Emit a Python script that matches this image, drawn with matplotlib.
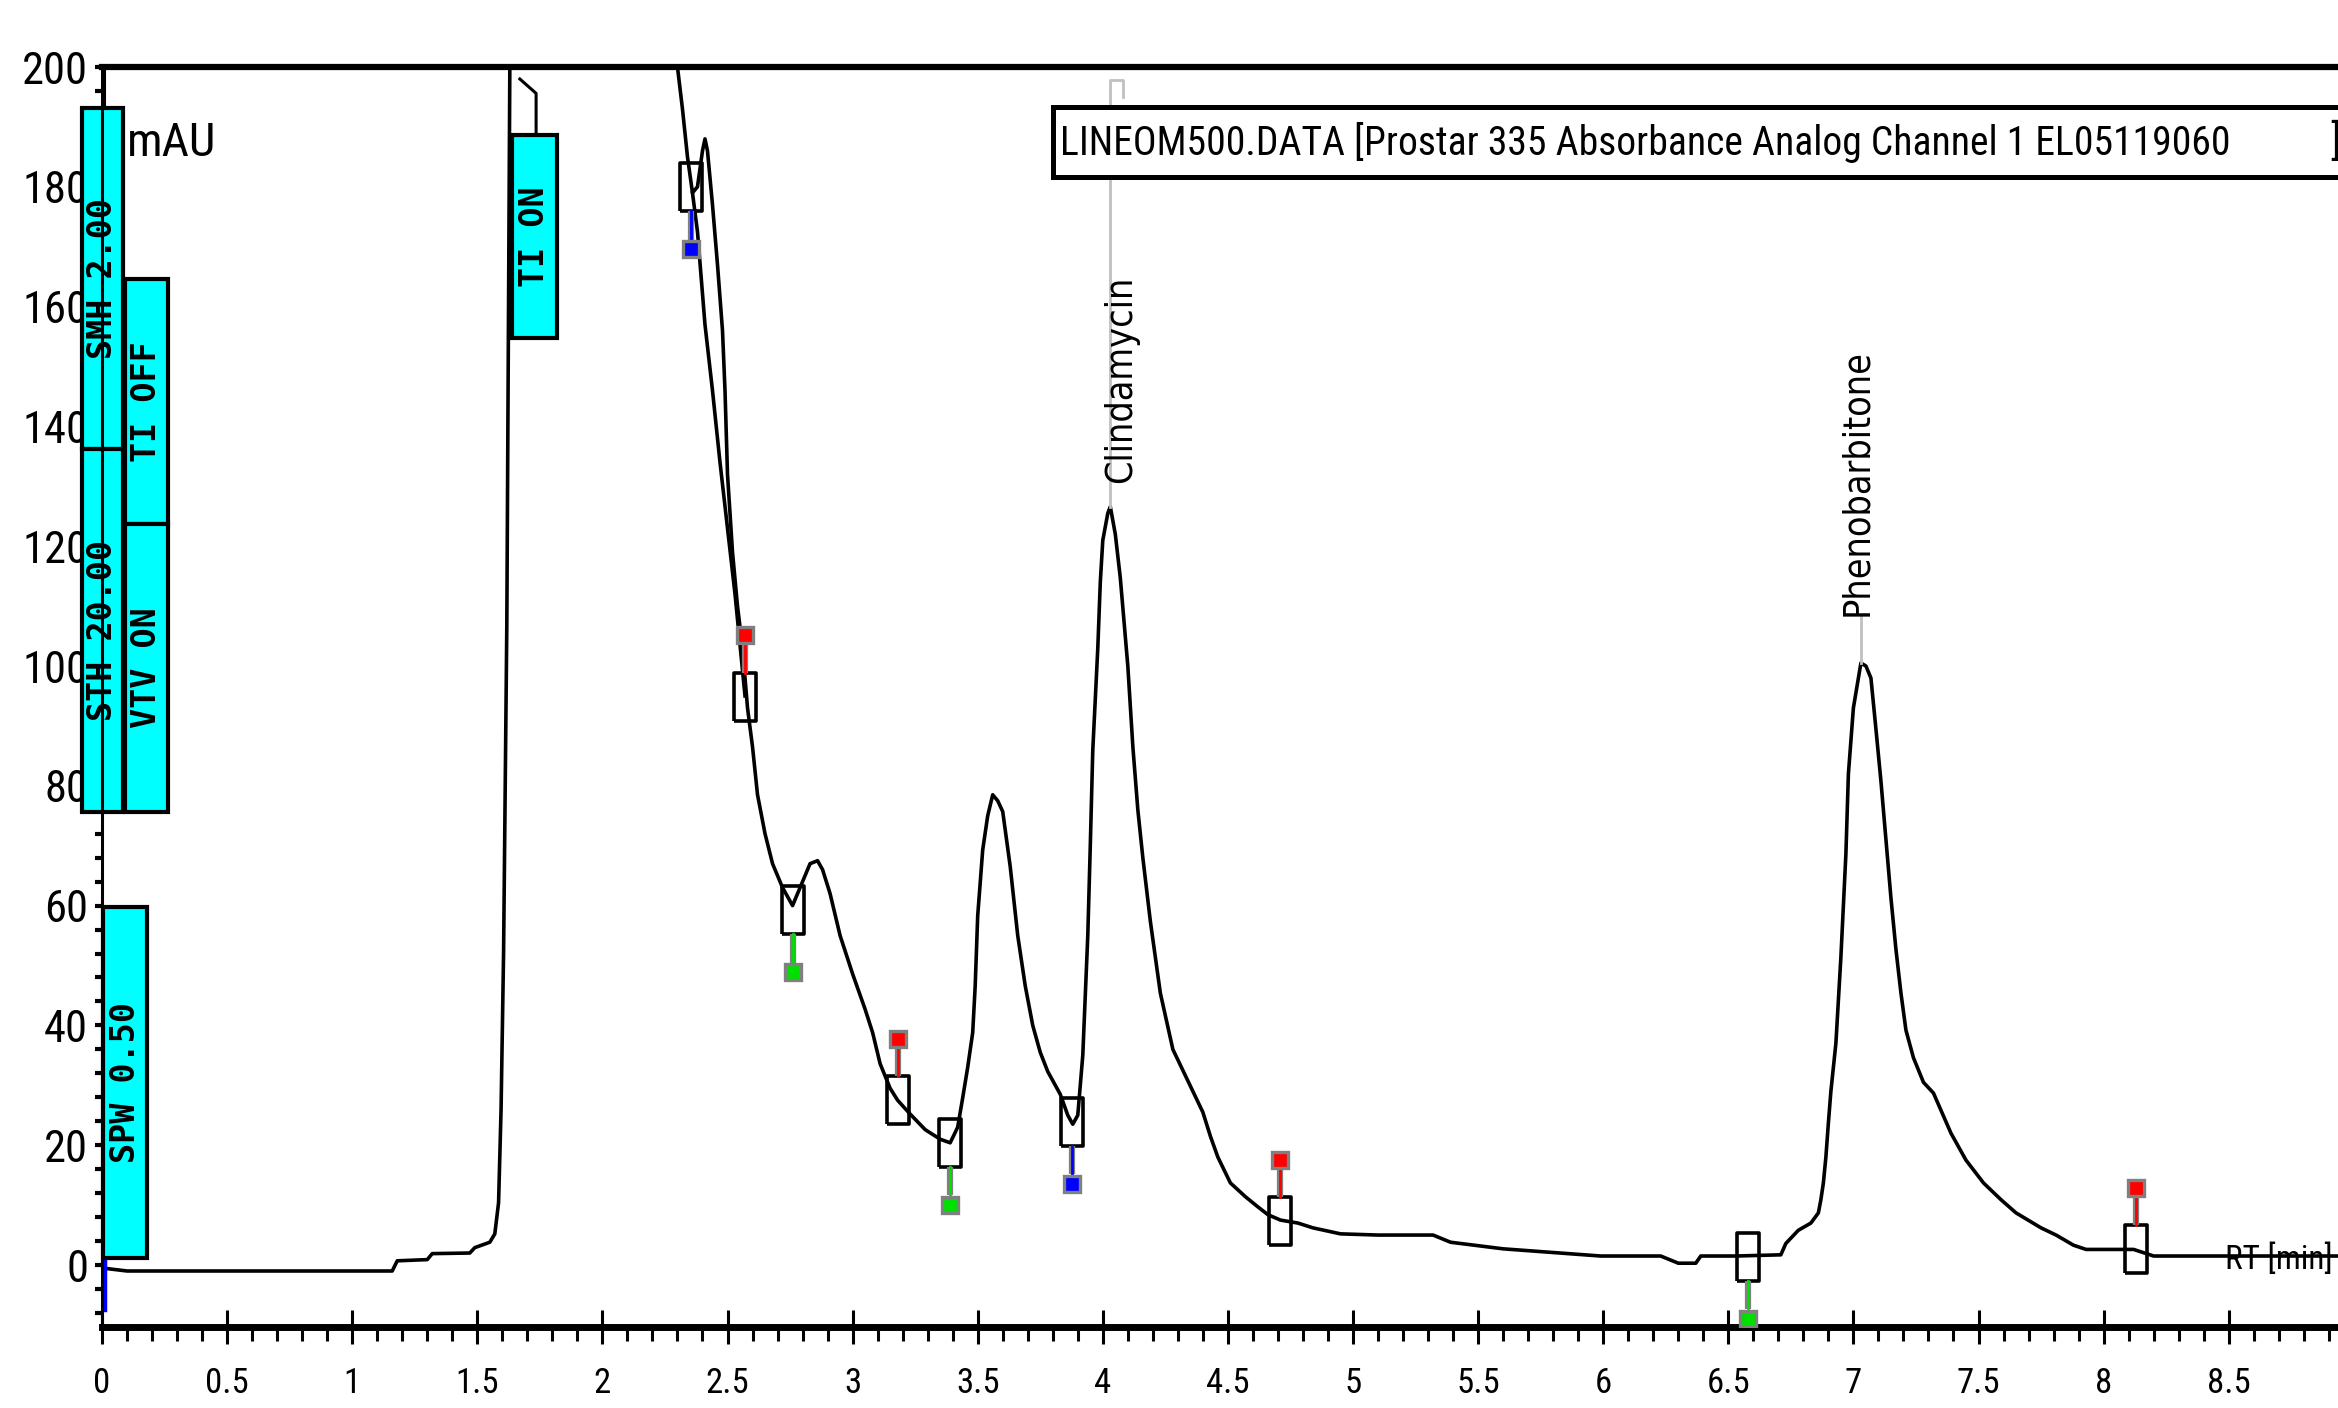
import matplotlib
matplotlib.use('Agg')
import numpy as np
import matplotlib.pyplot as plt
from matplotlib import font_manager
from matplotlib.patches import Rectangle
from matplotlib.ticker import MultipleLocator, FuncFormatter

# chromatogram trace (retention time in min, absorbance in mAU)
rt_min = [0.00, 0.10, 0.57, 1.00, 1.16, 1.18, 1.30, 1.32, 1.47, 1.49,
          1.55, 1.57, 1.585, 1.595, 1.605, 1.618, 1.63, 2.30, 2.32, 2.34,
          2.36, 2.38, 2.40, 2.41, 2.42, 2.44, 2.46, 2.48, 2.49, 2.50,
          2.52, 2.54, 2.56, 2.58, 2.60, 2.62, 2.65, 2.68, 2.72, 2.76,
          2.79, 2.83, 2.86, 2.88, 2.91, 2.95, 3.00, 3.05, 3.08, 3.11,
          3.15, 3.18, 3.23, 3.29, 3.35, 3.39, 3.42, 3.44, 3.46, 3.48,
          3.49, 3.50, 3.52, 3.54, 3.56, 3.58, 3.60, 3.63, 3.66, 3.69,
          3.72, 3.75, 3.78, 3.83, 3.86, 3.88, 3.90, 3.92, 3.93, 3.94,
          3.95, 3.96, 3.98, 3.99, 4.00, 4.02, 4.03, 4.05, 4.07, 4.10,
          4.12, 4.14, 4.16, 4.19, 4.23, 4.28, 4.32, 4.36, 4.40, 4.43,
          4.46, 4.51, 4.57, 4.62, 4.66, 4.71, 4.78, 4.84, 4.95, 5.10,
          5.32, 5.39, 5.60, 5.99, 6.23, 6.30, 6.37, 6.39, 6.53, 6.71,
          6.73, 6.78, 6.83, 6.86, 6.87, 6.88, 6.89, 6.90, 6.91, 6.93,
          6.95, 6.97, 6.98, 7.00, 7.03, 7.05, 7.07, 7.09, 7.11, 7.13,
          7.15, 7.17, 7.19, 7.21, 7.24, 7.28, 7.32, 7.39, 7.45, 7.52,
          7.59, 7.65, 7.75, 7.81, 7.88, 7.93, 8.12, 8.20, 8.52, 8.95]
signal_mau = [-0.5, -1.0, -1.0, -1.0, -1.0, 0.7, 0.9, 1.9, 2.0, 2.9,
              3.8, 5.2, 10.4, 26.0, 52.0, 107.0, 200.0, 200.0, 193.0, 185.0,
              179.0, 180.0, 186.0, 188.0, 186.0, 177.0, 167.0, 156.0, 146.0, 132.0,
              119.0, 110.0, 103.0, 93.0, 86.5, 78.5, 72.0, 67.0, 63.0, 60.0,
              63.0, 67.0, 67.5, 66.0, 62.0, 55.0, 48.6, 42.7, 38.8, 33.6,
              29.5, 27.5, 25.2, 22.6, 21.0, 20.4, 23.0, 27.9, 33.0, 38.8,
              46.6, 58.3, 69.3, 75.0, 78.5, 77.5, 75.7, 66.5, 55.0, 46.6,
              40.0, 35.5, 32.3, 28.5, 25.0, 23.5, 25.0, 35.0, 45.0, 55.0,
              70.0, 86.0, 103.0, 114.0, 121.0, 125.5, 126.6, 122.0, 114.7, 100.0,
              86.6, 76.0, 68.0, 57.4, 45.4, 36.0, 32.5, 29.0, 25.5, 21.5,
              18.0, 13.7, 11.4, 9.7, 8.4, 7.5, 7.0, 6.2, 5.2, 5.0,
              5.0, 3.8, 2.7, 1.5, 1.5, 0.3, 0.3, 1.5, 1.5, 1.7,
              3.6, 5.8, 7.0, 8.7, 10.9, 13.7, 18.0, 23.7, 29.0, 37.0,
              51.4, 68.6, 82.0, 93.0, 100.5, 100.0, 98.0, 89.5, 80.8, 71.0,
              61.3, 52.7, 45.4, 39.2, 34.6, 30.5, 28.7, 22.0, 17.5, 13.7,
              10.9, 8.7, 6.2, 5.0, 3.3, 2.6, 2.6, 1.5, 1.5, 1.5]

# second branch drawn under the first peak cluster
skim_rt = [2.36, 2.38, 2.41, 2.44, 2.47, 2.50, 2.53, 2.57]
skim_mau = [179.0, 172.5, 157.0, 146.0, 134.0, 123.0, 112.0, 95.0]

# integration event marks
event_rt = [0.01, 2.356, 2.57, 2.76, 3.18, 3.39, 3.877, 4.71, 6.58, 8.13]
event_mau = [-1.0, 179.9, 94.8, 59.2, 27.5, 20.4, 23.9, 7.3, 1.3, 2.6]
event_kind = ['zero', 'split', 'end', 'start', 'end', 'start', 'split', 'end', 'start', 'end']

# identified peaks
peak_names = ['Clindamycin', 'Phenobarbitone']
peak_rt = [4.03, 7.03]
peak_mau = [126.6, 100.5]

# method event boxes: text, x0, x1, y0, y1 (data units)
event_boxes = [('SMH 2.00', -0.08, 0.084, 136.2, 193.2),
               ('STH 20.00', -0.08, 0.084, 75.6, 136.2),
               ('TI OFF', 0.092, 0.264, 123.7, 164.6),
               ('VTV ON', 0.092, 0.264, 75.6, 123.7),
               ('SPW 0.50', 0.004, 0.18, 1.2, 59.8),
               ('TI ON', 1.64, 1.82, 154.8, 188.6)]

title = 'LINEOM500.DATA [Prostar 335 Absorbance Analog Channel 1 EL05119060'
x_ticks = np.arange(0, 8.51, 0.5)

avail = {f.name for f in font_manager.fontManager.ttflist}
narrow = 'DejaVu Sans'
for cand in ['Liberation Sans Narrow', 'Roboto Condensed', 'Open Sans Condensed']:
    if cand in avail:
        narrow = cand
        break
plt.rcParams['font.family'] = narrow
plt.rcParams['font.stretch'] = 'condensed'

W, H = 2338, 1408
fig = plt.figure(figsize=(W / 100, H / 100), dpi=100)
ax = fig.add_axes([102 / W, 81 / H, 9.2 * 250.2 / W, 1260 / H])
ax.set_xlim(0, 9.2)
ax.set_ylim(-10.35, 200)

ax.plot(rt_min, signal_mau, color='k', lw=2.6, zorder=3)
ax.plot(skim_rt, skim_mau, color='k', lw=2.6, zorder=3)

# event markers
colors = {'zero': '#0000ff', 'split': '#0000ff', 'start': '#00e000', 'end': '#ff0000'}
box_verts = [(-0.45, -1), (0.45, -1), (0.45, 1), (-0.45, 1), (-0.45, -1)]
for t, v, k in zip(event_rt, event_mau, event_kind):
    c = colors[k]
    d = 1 if k == 'end' else -1
    if k == 'zero':
        ax.plot([t, t], [v + 1.8, v - 6.5], color=c, lw=2.5, zorder=4)
        continue
    ax.plot(t, v, ls='none', marker=box_verts, ms=34, mfc='none', mec='k', mew=2.6, zorder=4)
    ax.plot([t, t], [v + d * 4.0, v + d * 8.7], color='#808080', lw=4.5,
            solid_capstyle='butt', zorder=4)
    ax.plot([t, t], [v + d * 4.0, v + d * 8.7], color=c, lw=2, zorder=4.1)
    ax.plot(t, v + d * 10.3, marker='s', ms=12, mfc=c, mec='#808080', mew=2.4, zorder=4.1)

# cyan method boxes
for txt, x0, x1, y0, y1 in event_boxes:
    ax.add_patch(Rectangle((x0, y0), x1 - x0, y1 - y0, fc='#00ffff', ec='k', lw=3,
                           zorder=5, clip_on=False))
    ax.text((x0 + x1) / 2, (y0 + y1) / 2, txt, rotation=90, ha='center', va='center',
            family='DejaVu Sans Mono', fontweight='bold', fontsize=24, zorder=6,
            clip_on=False)
ax.plot([0.007, 0.007], [193.2, 200], color='k', lw=2.2, zorder=5, clip_on=False)
ax.plot([1.735, 1.735, 1.67], [188.6, 195.6, 198.0], color='k', lw=2.2, zorder=5)

# peak labels with grey leaders
ax.plot([peak_rt[0], peak_rt[0], peak_rt[0] + 0.05, peak_rt[0] + 0.05],
        [peak_mau[0], 197.8, 197.8, 195.0], color='#c0c0c0', lw=2, zorder=3.5)
ax.text(peak_rt[0] + 0.043, 130.5, peak_names[0], rotation=90, ha='center', va='bottom',
        family='DejaVu Sans', fontsize=27, zorder=5)
ax.plot([peak_rt[1], peak_rt[1]], [peak_mau[1], 108.3], color='#c0c0c0', lw=2, zorder=3.5)
ax.text(peak_rt[1] - 0.014, 108.3, peak_names[1], rotation=90, ha='center', va='bottom',
        family='DejaVu Sans', fontsize=27, zorder=5)

# file title box
ax.add_patch(Rectangle((3.80, 181.6), 6.0, 11.7, fc='white', ec='k', lw=3.6,
                       zorder=7, clip_on=False))
t_title = ax.text(3.829, 187.45, title, ha='left', va='center', fontsize=30,
                  zorder=8, clip_on=False)
ax.text(8.905, 187.45, ']', ha='left', va='center', fontsize=30, zorder=8, clip_on=False)
renderer = fig.canvas.get_renderer()
bb = t_title.get_window_extent(renderer=renderer)
t_title.set_fontsize(30 * 1170 / bb.width)

ax.text(0.1, 187.3, 'mAU', ha='left', va='center', fontsize=34, zorder=6)
t_rt = ax.text(8.485, 0.8, 'RT [min]', ha='left', va='center', fontsize=30, zorder=6,
               clip_on=False)
bb = t_rt.get_window_extent(renderer=renderer)
t_rt.set_fontsize(30 * 108 / bb.width)

# axes styling
ax.set_xticks(x_ticks)
ax.xaxis.set_minor_locator(MultipleLocator(0.1))
ax.yaxis.set_major_locator(MultipleLocator(20))
ax.yaxis.set_minor_locator(MultipleLocator(4))
ax.xaxis.set_major_formatter(FuncFormatter(lambda v, p: f'{v:g}'))
ax.tick_params(axis='x', which='major', direction='inout', length=24, width=2.2,
               pad=17, labelsize=25)
ax.tick_params(axis='x', which='minor', direction='out', length=10, width=2.2)
ax.tick_params(axis='y', which='both', direction='out', length=5, width=3,
               pad=5, labelsize=32)
ax.spines['right'].set_visible(False)
ax.spines['top'].set_linewidth(4.5)
ax.spines['bottom'].set_linewidth(5)
ax.spines['left'].set_linewidth(2.2)
ax.spines['top'].set_zorder(9)
ax.spines['left'].set_zorder(6.5)

fig.savefig('out.png', dpi=100)
